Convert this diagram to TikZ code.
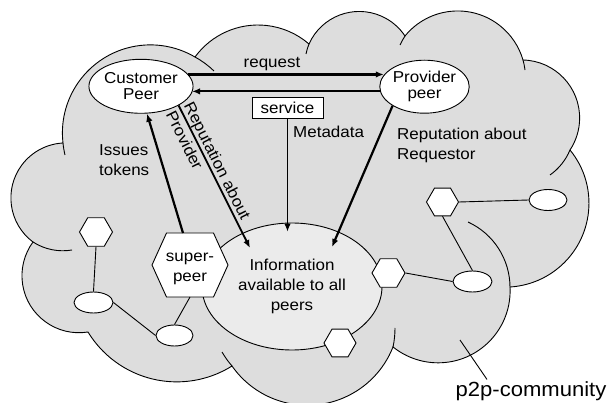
\documentclass[tikz,border=0pt]{standalone}
\usepackage{fontspec}
\setmainfont[FakeStretch=1.075]{Liberation Sans}
\usetikzlibrary{arrows.meta,shapes.geometric,svg.path,calc}

\definecolor{cloudgray}{RGB}{221,221,221}
\definecolor{infogray}{RGB}{235,235,235}

\begin{document}
\begin{tikzpicture}[x=1pt,y=-1pt,
  txt/.style={font=\fontsize{15.8}{20}\selectfont, inner sep=0pt},
  peer/.style={ellipse, draw, fill=white, line width=0.9pt, inner sep=0pt,
    align=center, font=\fontsize{15.8}{16.3}\selectfont},
  minihex/.style={regular polygon, regular polygon sides=6, draw, fill=white,
    line width=0.9pt, minimum size=33pt, inner sep=0pt},
  miniell/.style={ellipse, draw, fill=white, line width=0.9pt,
    minimum width=38pt, minimum height=21pt, inner sep=0pt},
  link/.style={line width=0.9pt},
  tip/.style={-{Latex[length=8pt,width=6.5pt]}},
  flow/.style={line width=2.2pt, tip},
]
\useasboundingbox (0,0) rectangle (613,403);

% community cloud: outline of bumps and the short inner arcs
\begin{scope}[yscale=-1]
  \path[fill=cloudgray, draw, line width=0.9pt] svg {M 63 143 A 88 88 0 0 1 195 57
    A 78 78 0 0 1 309 44 A 55 55 0 0 1 405 36 A 68 68 0 0 1 523 60
    A 58 58 0 0 1 570 150 A 84 84 0 0 1 510 287 A 72 72 0 0 1 393 347
    A 92 92 0 0 1 232 366 A 104 104 0 0 1 88 332 A 57 57 0 0 1 33 242
    A 55 55 0 0 1 63 143 Z};
  \draw[line width=0.9pt] svg {M 65 155 A 88 88 0 0 1 63 143
    M 195 57 A 88 88 0 0 1 214 71
    M 306 54 A 55 55 0 0 1 309 44
    M 400 45 A 68 68 0 0 1 405 36
    M 523 60 A 68 68 0 0 1 525 70
    M 570 150 A 58 58 0 0 1 550 175
    M 468 222 A 72 72 0 0 1 510 287
    M 395 328 A 92 92 0 0 1 393 347
    M 232 366 A 92 92 0 0 1 222 352
    M 72 250 A 55 55 0 0 1 33 242};
\end{scope}

% shared information
\node[ellipse, draw, fill=infogray, line width=0.9pt, minimum width=180pt,
  minimum height=127pt, align=center, txt] (info) at (292,286.5)
  {Information\\available to all\\peers};

% peers
\node[peer, minimum width=88pt, minimum height=54pt] (cust) at (141,86.3) {Customer\\Peer};
\node[peer, minimum width=81pt, minimum height=53pt] (prov) at (424.5,86.7) {Provider\\peer};
\node[draw, fill=white, line width=0.9pt, minimum width=71pt, minimum height=21pt,
  txt] (svc) at (287.5,107.5) {service};

% super-peer hexagon
\node[minimum width=76pt, minimum height=64pt, inner sep=0pt, outer sep=0pt] (sp) at (190,265) {};
\draw[link, fill=white] (sp.west) -- ([xshift=-23.5pt]sp.north) -- ([xshift=23.5pt]sp.north)
  -- (sp.east) -- ([xshift=23.5pt]sp.south) -- ([xshift=-23.5pt]sp.south) -- cycle;
\node[txt, align=center, anchor=base] (sptext) at (190,281.7) {super-\\peer};

% ordinary peers of the community
\node[minihex, minimum size=32pt] (h1) at (442.5,202) {};
\node[miniell] (e1) at (548,200) {};
\node[miniell, minimum width=39pt] (e2) at (472.5,281.5) {};
\node[minihex] (h2) at (388.5,273) {};
\node[minihex, minimum size=32pt] (h3) at (340,343) {};
\node[minihex] (h4) at (96,232) {};
\node[miniell, minimum width=39pt] (e3) at (93.5,302.5) {};
\node[miniell, minimum width=37pt] (e4) at (174.5,335.5) {};

\draw[link] (h1.east) -- (e1.west);
\draw[link] (h1.south) -- (e2.north);
\draw[link] (h2.east) -- (e2.west);
\draw[link] (h4.south) -- (e3.north);
\draw[link] (e3.east) -- (e4.west);
\draw[link] (sp.south) -- (e4.north);

% request and service
\draw[flow] (cust.14) -- (cust.14 -| prov.164);
\draw[flow] (prov.186) -- (prov.186 -| cust.-7);
\node[txt, anchor=base] (req) at (272,68) {request};

\coordinate (mtip) at ([yshift=-9pt]info.north);
\draw[line width=1.2pt, tip] (svc.south) -- (svc.south |- mtip);
\node[txt, anchor=base west] (meta) at (293,138) {Metadata};

% reputations and tokens
\draw[line width=1.8pt, tip] (cust.-27) -- ([xshift=-42pt,yshift=38.5pt]info.center)
  node[txt, pos=0.42, sloped, align=left] (rpp) {Reputation about\\Provider};
\draw[flow] (prov.south west) -- ([xshift=40pt,yshift=39.5pt]info.center);
\node[txt, anchor=base west, align=left] (rpr) at (397,159.3) {Reputation about\\Requestor};

\draw[flow] ([xshift=-7pt]sp.north) -- ([xshift=6pt]cust.south);
\node[txt, anchor=base west, align=left] (iss) at (99,176) {Issues\\tokens};

% community label
\node[font=\fontsize{20.5}{23}\selectfont, inner sep=0pt, anchor=base] (p2p) at (531,396.5) {p2p-community};
\coordinate (p2ptip) at (460,340);
\draw[link] ([xshift=-44pt,yshift=2pt]p2p.north) -- (p2ptip);
\end{tikzpicture}
\end{document}
